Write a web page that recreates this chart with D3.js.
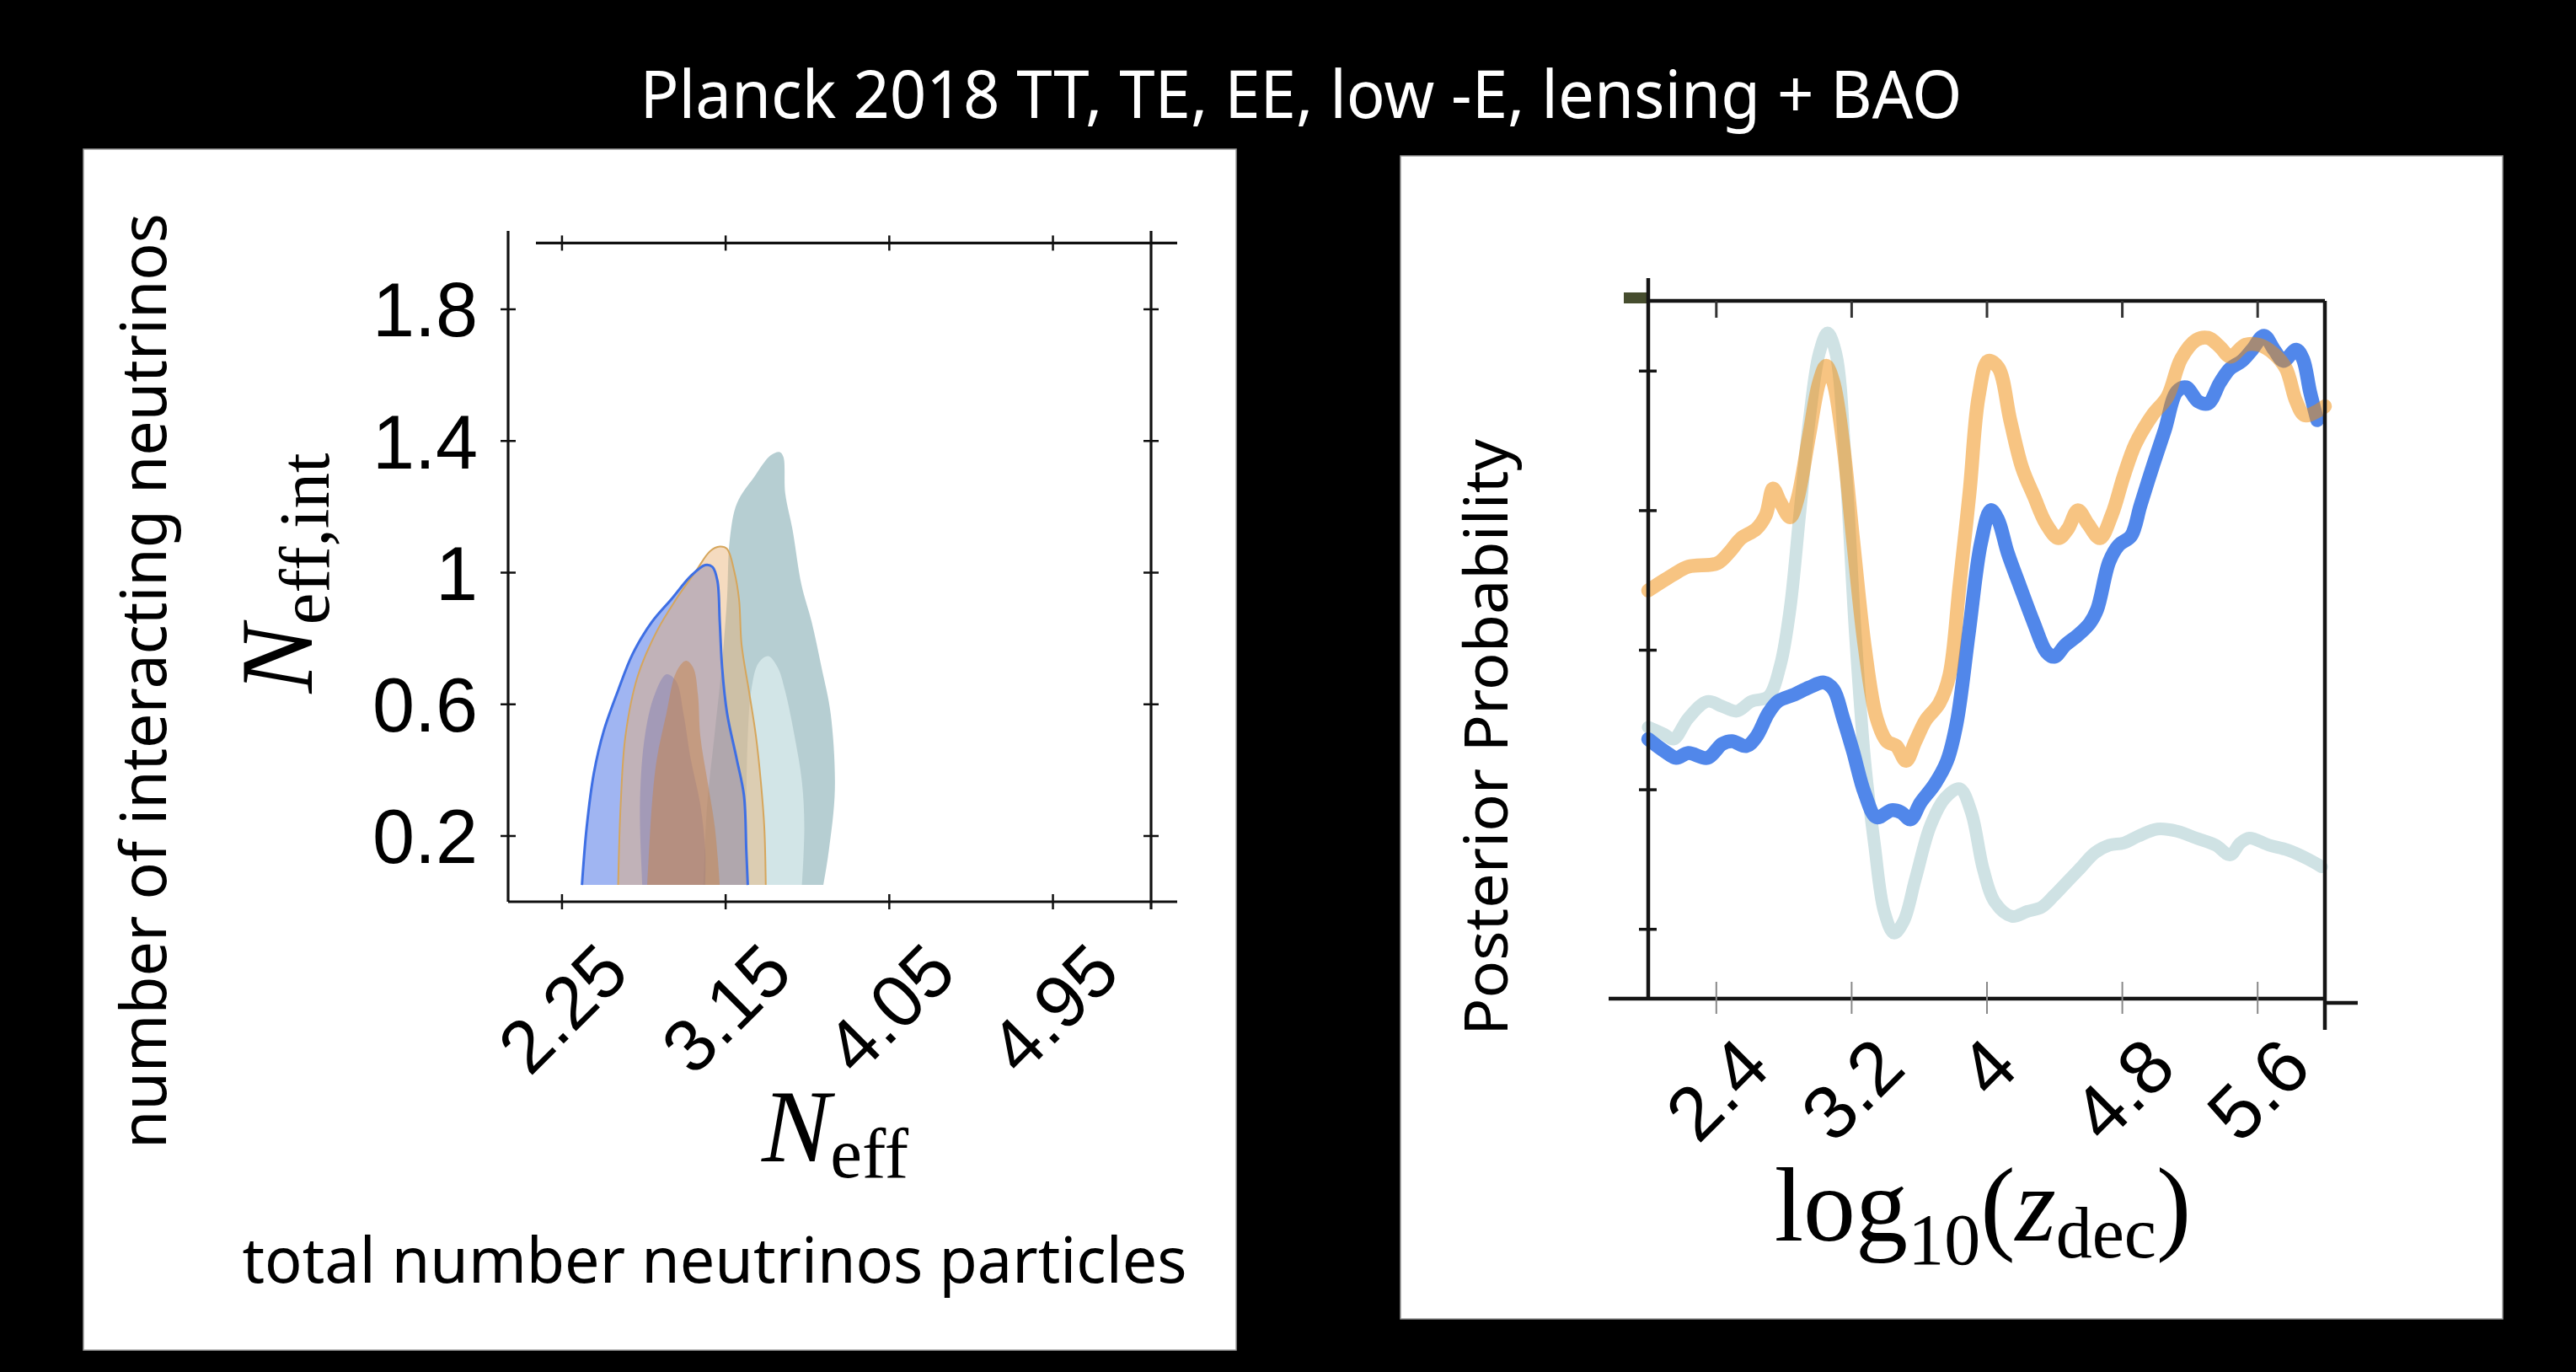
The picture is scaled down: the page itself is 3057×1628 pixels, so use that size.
<!DOCTYPE html>
<html>
<head>
<meta charset="utf-8">
<script src="https://cdn.jsdelivr.net/npm/d3@7"></script>
<style>
  html, body { margin: 0; padding: 0; background: #000; }
  svg { display: block; }
</style>
</head>
<body>
<svg id="fig" width="3057" height="1628"></svg>
<script>
// ---------- text ----------
const titleText = "Planck 2018 TT, TE, EE, low -E, lensing + BAO";
const leftSideLabel = "number of interacting neutrinos";
const leftCaption = "total number neutrinos particles";
const rightSideLabel = "Posterior Probability";

// ---------- left panel: N_eff vs N_eff,int ----------
const neffTicks = [2.25, 3.15, 4.05, 4.95];
const neffIntTicks = [0.2, 0.6, 1, 1.4, 1.8];

// contour outlines, [N_eff, N_eff,int]
const tealOuter = [[3.03,0.05],[3.05,0.29],[3.09,0.50],[3.13,0.71],[3.16,0.92],[3.175,1.10],[3.215,1.21],[3.31,1.29],[3.40,1.355],[3.45,1.365],[3.47,1.35],[3.48,1.24],[3.52,1.13],[3.57,0.96],[3.625,0.85],[3.68,0.71],[3.73,0.57],[3.753,0.34],[3.72,0.155],[3.69,0.05]];
const tealInner = [[3.266,0.05],[3.266,0.29],[3.274,0.50],[3.293,0.64],[3.333,0.724],[3.386,0.745],[3.439,0.71],[3.479,0.64],[3.532,0.50],[3.572,0.363],[3.585,0.225],[3.572,0.05]];
const blueOuter = [[2.362,0.05],[2.388,0.225],[2.428,0.391],[2.481,0.516],[2.561,0.641],[2.641,0.752],[2.747,0.849],[2.854,0.918],[2.96,0.988],[3.04,1.022],[3.08,1.016],[3.107,0.974],[3.12,0.849],[3.133,0.71],[3.16,0.572],[3.213,0.433],[3.253,0.322],[3.266,0.155],[3.274,0.05]];
const orangeOuter = [[2.561,0.05],[2.575,0.294],[2.601,0.502],[2.668,0.683],[2.774,0.821],[2.88,0.918],[2.987,1.002],[3.067,1.064],[3.12,1.078],[3.16,1.071],[3.2,1.002],[3.226,0.918],[3.24,0.78],[3.28,0.641],[3.319,0.502],[3.346,0.363],[3.365,0.225],[3.373,0.05]];
const blueInner = [[2.694,0.05],[2.681,0.294],[2.708,0.502],[2.761,0.627],[2.827,0.69],[2.88,0.669],[2.92,0.572],[2.96,0.433],[3.013,0.294],[3.04,0.155],[3.04,0.05]];
const orangeInner = [[2.721,0.05],[2.747,0.294],[2.774,0.433],[2.827,0.572],[2.88,0.696],[2.934,0.731],[2.974,0.71],[3.0,0.627],[3.013,0.502],[3.053,0.363],[3.093,0.225],[3.12,0.05]];

// ---------- right panel: posterior of log10(z_dec) ----------
const zdecTicks = [2.4, 3.2, 4, 4.8, 5.6];
const probTicks = [0.1, 0.3, 0.5, 0.7, 0.9];

// [log10 z_dec, posterior]
const paleCurve = [[2.0,0.389],[2.094,0.379],[2.15,0.372],[2.237,0.402],[2.35,0.426],[2.437,0.419],[2.523,0.412],[2.61,0.426],[2.71,0.433],[2.78,0.477],[2.838,0.558],[2.895,0.693],[2.952,0.829],[3.01,0.924],[3.06,0.954],[3.11,0.924],[3.167,0.761],[3.224,0.524],[3.28,0.341],[3.338,0.22],[3.395,0.125],[3.453,0.094],[3.51,0.111],[3.58,0.172],[3.667,0.247],[3.753,0.287],[3.84,0.301],[3.91,0.267],[3.98,0.186],[4.05,0.138],[4.15,0.118],[4.24,0.125],[4.325,0.131],[4.4,0.148],[4.467,0.165],[4.55,0.186],[4.64,0.209],[4.725,0.22],[4.81,0.223],[4.897,0.233],[5.01,0.243],[5.125,0.24],[5.24,0.23],[5.354,0.22],[5.44,0.206],[5.5,0.223],[5.554,0.23],[5.67,0.22],[5.78,0.213],[5.9,0.2],[5.98,0.189]];
const blueCurve = [[2.0,0.372],[2.094,0.355],[2.166,0.345],[2.237,0.352],[2.35,0.345],[2.437,0.365],[2.495,0.369],[2.58,0.362],[2.638,0.375],[2.71,0.409],[2.766,0.426],[2.866,0.436],[2.952,0.446],[3.038,0.453],[3.095,0.443],[3.152,0.402],[3.21,0.355],[3.28,0.294],[3.35,0.26],[3.438,0.27],[3.495,0.267],[3.55,0.257],[3.61,0.281],[3.695,0.308],[3.767,0.341],[3.824,0.396],[3.895,0.524],[3.967,0.653],[4.025,0.70],[4.067,0.687],[4.125,0.639],[4.196,0.592],[4.28,0.538],[4.353,0.497],[4.4,0.49],[4.467,0.507],[4.54,0.521],[4.61,0.538],[4.654,0.558],[4.725,0.626],[4.782,0.65],[4.854,0.663],[4.91,0.707],[4.98,0.761],[5.054,0.815],[5.125,0.87],[5.18,0.876],[5.25,0.856],[5.31,0.853],[5.38,0.883],[5.44,0.903],[5.51,0.914],[5.57,0.93],[5.64,0.95],[5.7,0.93],[5.755,0.914],[5.83,0.93],[5.87,0.917],[5.912,0.87],[5.955,0.829]];
const orangeCurve = [[2.0,0.585],[2.15,0.608],[2.237,0.619],[2.409,0.624],[2.48,0.64],[2.55,0.66],[2.638,0.673],[2.695,0.693],[2.738,0.731],[2.78,0.712],[2.838,0.69],[2.88,0.714],[2.952,0.808],[3.01,0.883],[3.052,0.907],[3.095,0.883],[3.152,0.795],[3.21,0.66],[3.28,0.504],[3.35,0.402],[3.41,0.369],[3.467,0.362],[3.524,0.341],[3.58,0.369],[3.64,0.399],[3.72,0.423],[3.78,0.463],[3.84,0.592],[3.9,0.727],[3.953,0.863],[4.01,0.914],[4.07,0.904],[4.14,0.829],[4.21,0.761],[4.28,0.72],[4.353,0.68],[4.425,0.66],[4.48,0.673],[4.54,0.70],[4.6,0.68],[4.67,0.66],[4.74,0.693],[4.81,0.748],[4.88,0.795],[4.98,0.836],[5.07,0.863],[5.15,0.917],[5.24,0.944],[5.31,0.947],[5.38,0.934],[5.44,0.92],[5.53,0.937],[5.61,0.937],[5.7,0.924],[5.77,0.903],[5.83,0.856],[5.88,0.836],[5.955,0.842],[6.0,0.849]];

// ---------- drawing ----------
const svg = d3.select("#fig");
const HAND = "'Noto Sans', 'DejaVu Sans', sans-serif";
const SANS = "'Liberation Sans', Arial, Helvetica, sans-serif";
const SERIF = "'Liberation Serif', 'Times New Roman', 'DejaVu Serif', serif";

svg.append("rect").attr("width", 3057).attr("height", 1628).attr("fill", "#000");

svg.append("text")
  .attr("x", 1544).attr("y", 140)
  .attr("text-anchor", "middle")
  .attr("textLength", 1569).attr("lengthAdjust", "spacingAndGlyphs")
  .style("font-family", HAND).style("font-size", "78px")
  .attr("fill", "#fff")
  .text(titleText);

// white cards
svg.append("rect").attr("x", 99).attr("y", 177).attr("width", 1368).attr("height", 1425)
  .attr("fill", "#fff").attr("stroke", "#9a9a9a").attr("stroke-width", 1.5);
svg.append("rect").attr("x", 1662).attr("y", 185).attr("width", 1308).attr("height", 1380)
  .attr("fill", "#fff").attr("stroke", "#9a9a9a").attr("stroke-width", 1.5);

// rotated tick labels: bounding box centred on the tick, top edge at topY
function slantLabels(axisG, axisY, topY, fs) {
  axisG.selectAll(".tick text").each(function () {
    const t = d3.select(this)
      .style("font-family", SANS).style("font-size", fs + "px")
      .attr("fill", "#000");
    const w = this.getComputedTextLength();
    const ext = (w + 0.716 * fs) * Math.SQRT1_2;
    t.attr("x", 0).attr("y", 0).attr("dy", "0.358em").attr("text-anchor", "middle")
      .attr("transform", `translate(0,${topY + ext / 2 - axisY}) rotate(-45)`);
  });
}

// ===== left panel =====
const xN = d3.scaleLinear().domain([1.956, 5.492]).range([603, 1366]);
const yN = d3.scaleLinear().domain([0, 2]).range([1069.6, 288.4]);
const L = svg.append("g");

const contourPath = d3.line().x(d => xN(d[0])).y(d => yN(d[1])).curve(d3.curveCatmullRom.alpha(0.5));
const fills = [
  { pts: tealOuter,   fill: "#b2cbd0", op: 0.95 },
  { pts: tealInner,   fill: "#d4e6e8", op: 0.95 },
  { pts: blueOuter,   fill: "#5b7fe8", op: 0.58 },
  { pts: orangeOuter, fill: "#e8b070", op: 0.45 },
  { pts: blueInner,   fill: "#6e6eb4", op: 0.35 },
  { pts: orangeInner, fill: "#c8834a", op: 0.50 }
];
fills.forEach(f => {
  L.append("path").attr("d", contourPath(f.pts) + "Z")
    .attr("fill", f.fill).attr("fill-opacity", f.op).attr("stroke", "none");
});
L.append("path").attr("d", contourPath(orangeOuter)).attr("fill", "none")
  .attr("stroke", "#d6a65c").attr("stroke-width", 2);
L.append("path").attr("d", contourPath(blueOuter)).attr("fill", "none")
  .attr("stroke", "#3e6fe4").attr("stroke-width", 3);

// frame
const frameL = [
  [603, 274, 603, 1070], [603, 1070, 1397, 1070],
  [636, 288.4, 1397, 288.4], [1366, 274, 1366, 1079]
];
frameL.forEach(s => L.append("line")
  .attr("x1", s[0]).attr("y1", s[1]).attr("x2", s[2]).attr("y2", s[3])
  .attr("stroke", "#111").attr("stroke-width", 3.2));

const axLeftN = L.append("g").attr("transform", "translate(603,0)")
  .call(d3.axisLeft(yN).tickValues(neffIntTicks).tickFormat(d => String(d)).tickSize(0).tickPadding(36));
axLeftN.select(".domain").remove();
axLeftN.selectAll(".tick line").attr("x1", -9).attr("x2", 9).attr("stroke", "#111").attr("stroke-width", 2.5);
axLeftN.selectAll(".tick text").style("font-family", SANS).style("font-size", "90px")
  .attr("fill", "#000").attr("dy", "0.36em");

const axRightN = L.append("g").attr("transform", "translate(1366,0)")
  .call(d3.axisRight(yN).tickValues(neffIntTicks).tickFormat("").tickSize(0));
axRightN.select(".domain").remove();
axRightN.selectAll(".tick line").attr("x1", -9).attr("x2", 9).attr("stroke", "#111").attr("stroke-width", 2.5);

const axTopN = L.append("g").attr("transform", "translate(0,288.4)")
  .call(d3.axisTop(xN).tickValues(neffTicks).tickFormat("").tickSize(0));
axTopN.select(".domain").remove();
axTopN.selectAll(".tick line").attr("y1", -9).attr("y2", 9).attr("stroke", "#111").attr("stroke-width", 2.5);

const axBotN = L.append("g").attr("transform", "translate(0,1070)")
  .call(d3.axisBottom(xN).tickValues(neffTicks).tickFormat(d => String(d)).tickSize(0));
axBotN.select(".domain").remove();
axBotN.selectAll(".tick line").attr("y1", -9).attr("y2", 9).attr("stroke", "#111").attr("stroke-width", 2.5);
slantLabels(axBotN, 1070, 1113, 88);

// axis symbols
const xlabN = L.append("text").attr("x", 991).attr("y", 1378).attr("text-anchor", "middle")
  .style("font-family", SERIF).attr("fill", "#000");
xlabN.append("tspan").style("font-style", "italic").style("font-size", "122px").text("N");
xlabN.append("tspan").attr("dy", 19).style("font-size", "85px").text("eff");

const ylabN = L.append("text").attr("transform", "translate(370,680) rotate(-90)").attr("text-anchor", "middle")
  .style("font-family", SERIF).attr("fill", "#000");
ylabN.append("tspan").style("font-style", "italic").style("font-size", "122px").text("N");
ylabN.append("tspan").attr("dy", 20).style("font-size", "85px").text("eff,int");

L.append("text").attr("transform", "translate(197,808) rotate(-90)").attr("text-anchor", "middle")
  .attr("textLength", 1110).attr("lengthAdjust", "spacingAndGlyphs")
  .style("font-family", HAND).style("font-size", "74px").attr("fill", "#000")
  .text(leftSideLabel);

L.append("text").attr("x", 848).attr("y", 1522).attr("text-anchor", "middle")
  .attr("textLength", 1121).attr("lengthAdjust", "spacingAndGlyphs")
  .style("font-family", HAND).style("font-size", "74px").attr("fill", "#000")
  .text(leftCaption);

// ===== right panel =====
const xZ = d3.scaleLinear().domain([2, 6]).range([1956, 2759]);
const yP = d3.scaleLinear().domain([0, 1]).range([1185, 357]);
const R = svg.append("g");

const curve = d3.line().x(d => xZ(d[0])).y(d => yP(d[1])).curve(d3.curveCatmullRom.alpha(0.5));
R.append("path").attr("d", curve(paleCurve)).attr("fill", "none")
  .attr("stroke", "#cfe2e4").attr("stroke-width", 15)
  .attr("stroke-linecap", "round").attr("stroke-linejoin", "round");
R.append("path").attr("d", curve(blueCurve)).attr("fill", "none")
  .attr("stroke", "#5187ea").attr("stroke-width", 16.5)
  .attr("stroke-linecap", "round").attr("stroke-linejoin", "round");
R.append("path").attr("d", curve(orangeCurve)).attr("fill", "none")
  .attr("stroke", "rgb(240,142,15)").attr("stroke-opacity", 0.52).attr("stroke-width", 16.5)
  .attr("stroke-linecap", "round").attr("stroke-linejoin", "round");

// frame
R.append("rect").attr("x", 1927).attr("y", 347).attr("width", 27).attr("height", 13).attr("fill", "#464d2e");
const frameR = [
  [1956, 330, 1956, 1185], [1954, 357, 2759, 357],
  [2759, 357, 2759, 1222], [1909, 1185, 2759, 1185], [2759, 1190, 2798, 1190]
];
frameR.forEach(s => R.append("line")
  .attr("x1", s[0]).attr("y1", s[1]).attr("x2", s[2]).attr("y2", s[3])
  .attr("stroke", "#151515").attr("stroke-width", 4.5));

const axLeftP = R.append("g").attr("transform", "translate(1956,0)")
  .call(d3.axisLeft(yP).tickValues(probTicks).tickFormat("").tickSize(0));
axLeftP.select(".domain").remove();
axLeftP.selectAll(".tick line").attr("x1", -11).attr("x2", 10).attr("stroke", "#151515").attr("stroke-width", 3.5);

const axTopP = R.append("g").attr("transform", "translate(0,357)")
  .call(d3.axisTop(xZ).tickValues(zdecTicks).tickFormat("").tickSize(0));
axTopP.select(".domain").remove();
axTopP.selectAll(".tick line").attr("y1", 0).attr("y2", 20).attr("stroke", "#333").attr("stroke-width", 3);

const axBotP = R.append("g").attr("transform", "translate(0,1185)")
  .call(d3.axisBottom(xZ).tickValues(zdecTicks).tickFormat(d => String(d)).tickSize(0));
axBotP.select(".domain").remove();
axBotP.selectAll(".tick line").attr("y1", -20).attr("y2", 18).attr("stroke", "#888").attr("stroke-width", 2);
slantLabels(axBotP, 1185, 1225, 90);

const xlabZ = R.append("text").attr("x", 2353).attr("y", 1472).attr("text-anchor", "middle")
  .style("font-family", SERIF).style("font-size", "124px").attr("fill", "#000");
xlabZ.append("tspan").text("log");
xlabZ.append("tspan").attr("dy", 28).style("font-size", "86px").text("10");
xlabZ.append("tspan").attr("dy", -28).text("(");
xlabZ.append("tspan").style("font-style", "italic").text("z");
xlabZ.append("tspan").attr("dy", 20).style("font-size", "86px").text("dec");
xlabZ.append("tspan").attr("dy", -20).text(")");

R.append("text").attr("transform", "translate(1789,875) rotate(-90)").attr("text-anchor", "middle")
  .attr("textLength", 708).attr("lengthAdjust", "spacingAndGlyphs")
  .style("font-family", HAND).style("font-size", "72px").attr("fill", "#000")
  .text(rightSideLabel);
</script>
</body>
</html>
